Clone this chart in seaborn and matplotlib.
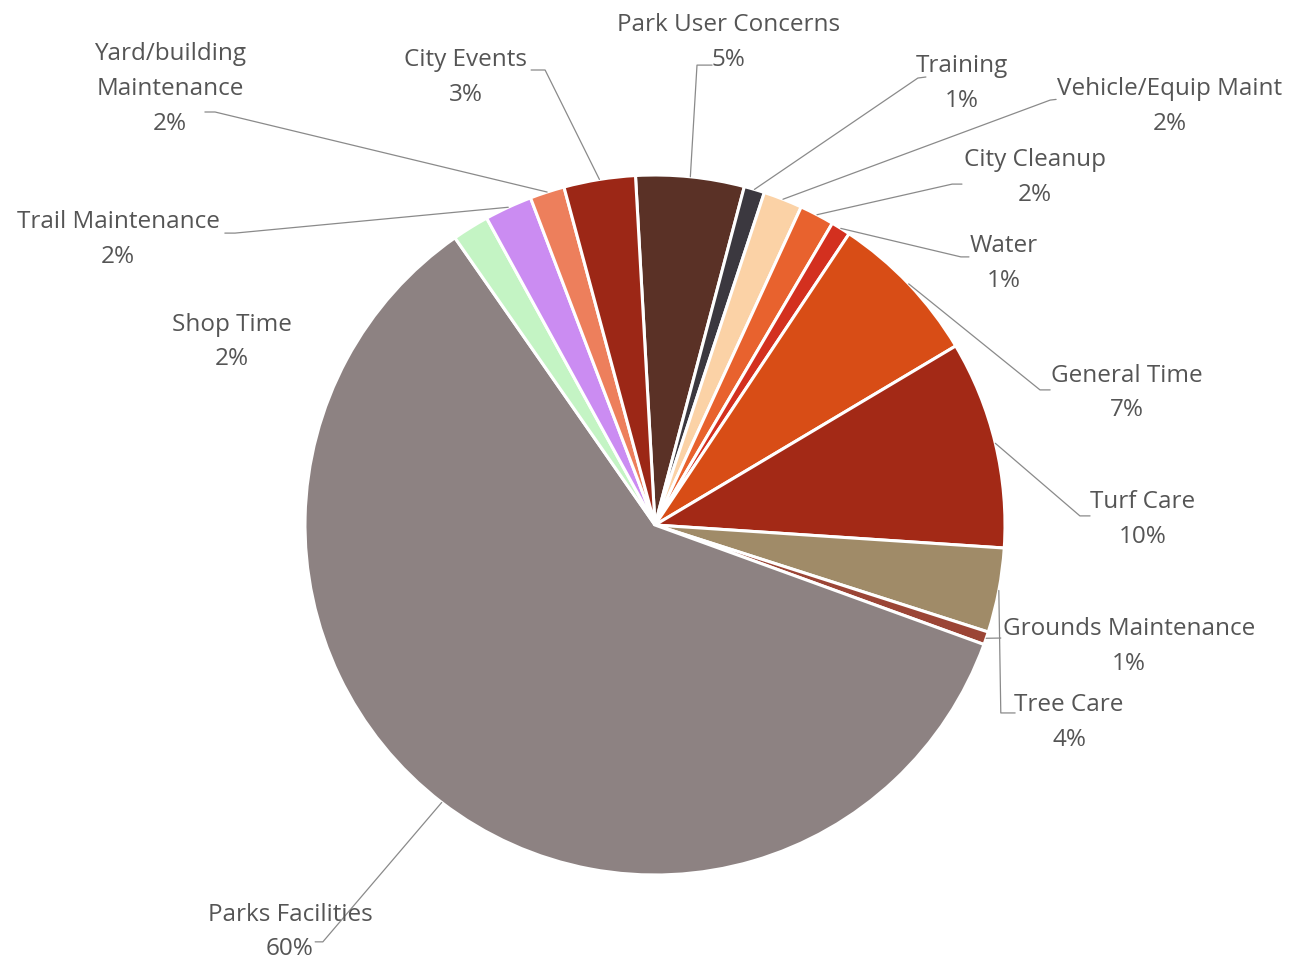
import matplotlib
matplotlib.use("Agg")
import matplotlib.pyplot as plt
import seaborn as sns
import numpy as np

# Share of staff time by work category, listed clockwise from the top of the pie
categories = [
    "Park User Concerns", "Training", "Vehicle/Equip Maint", "City Cleanup", "Water",
    "General Time", "Turf Care", "Tree Care", "Grounds Maintenance", "Parks Facilities",
    "Shop Time", "Trail Maintenance", "Yard/building\nMaintenance", "City Events",
]
share = [5.0, 0.95, 1.8, 1.6, 0.9, 7.1, 9.6, 3.9, 0.6, 59.8, 1.7, 2.2, 1.6, 3.3]

colors = [
    "#5a3126", "#3b383f", "#fbd2a6", "#e8622e", "#d3301f",
    "#d84d16", "#a32916", "#a08b68", "#9b4536", "#8d8282",
    "#c4f4c4", "#cb8cf2", "#ed7f5c", "#9c2716",
]

# Label block centres (data units, pie radius = 1)
label_xy = [
    (0.211, 1.379), (0.877, 1.262), (1.471, 1.196), (1.086, 0.993), (0.997, 0.747),
    (1.349, 0.377), (1.394, 0.016), (1.183, -0.564), (1.354, -0.346), (-1.043, -1.163),
    (-1.209, 0.523), (-1.534, 0.816), (-1.386, 1.246), (-0.540, 1.279),
]
# Leader line: elbow point and end point near the label (None = no leader)
leader_pts = [
    [(0.120, 1.314), (0.163, 1.314)],
    [(0.751, 1.277), (0.774, 1.280)],
    [(1.129, 1.214), (1.146, 1.216)],
    [(0.849, 0.974), (0.877, 0.974)],
    [(0.874, 0.766), (0.897, 0.766)],
    [(1.100, 0.386), (1.129, 0.386)],
    [(1.214, 0.026), (1.243, 0.026)],
    [(0.988, -0.537), (1.029, -0.537)],
    [(0.988, -0.323), (0.988, -0.323)],
    [(-0.949, -1.191), (-0.971, -1.191)],
    None,
    [(-1.200, 0.834), (-1.229, 0.834)],
    [(-1.257, 1.180), (-1.286, 1.180)],
    [(-0.314, 1.300), (-0.354, 1.300)],
]

sns.set_theme(style="white")
plt.rcParams["font.family"] = ["Open Sans", "DejaVu Sans"]

W, H, DPI = 1306, 980, 100
fig = plt.figure(figsize=(W / DPI, H / DPI), dpi=DPI)
ax = fig.add_axes([0, 0, 1, 1])

wedges, _ = ax.pie(
    share, colors=colors, startangle=93.2, counterclock=False, radius=1.0,
    wedgeprops=dict(edgecolor="white", linewidth=2.2),
)

cx, cy, r = 655, 525, 350
ax.set_xlim(-cx / r, (W - cx) / r)
ax.set_ylim((cy - H) / r, cy / r)
ax.set_aspect("equal")
ax.axis("off")

total = sum(share)
text_color = "#555555"
line_color = "#8a8a8a"
for w, name, v, (tx, ty), pts in zip(wedges, categories, share, label_xy, leader_pts):
    pct = round(v / total * 100)
    ax.text(tx, ty, f"{name}\n{pct}%", ha="center", va="center", fontsize=17.5,
            color=text_color, linespacing=1.6)
    if pts is None:
        continue
    mid = np.deg2rad((w.theta1 + w.theta2) / 2)
    ax_x, ax_y = np.cos(mid) * 1.0, np.sin(mid) * 1.0
    xs = [ax_x] + [p[0] for p in pts]
    ys = [ax_y] + [p[1] for p in pts]
    ax.plot(xs, ys, color=line_color, linewidth=0.9)

fig.savefig("out.png", dpi=DPI, facecolor="white")
